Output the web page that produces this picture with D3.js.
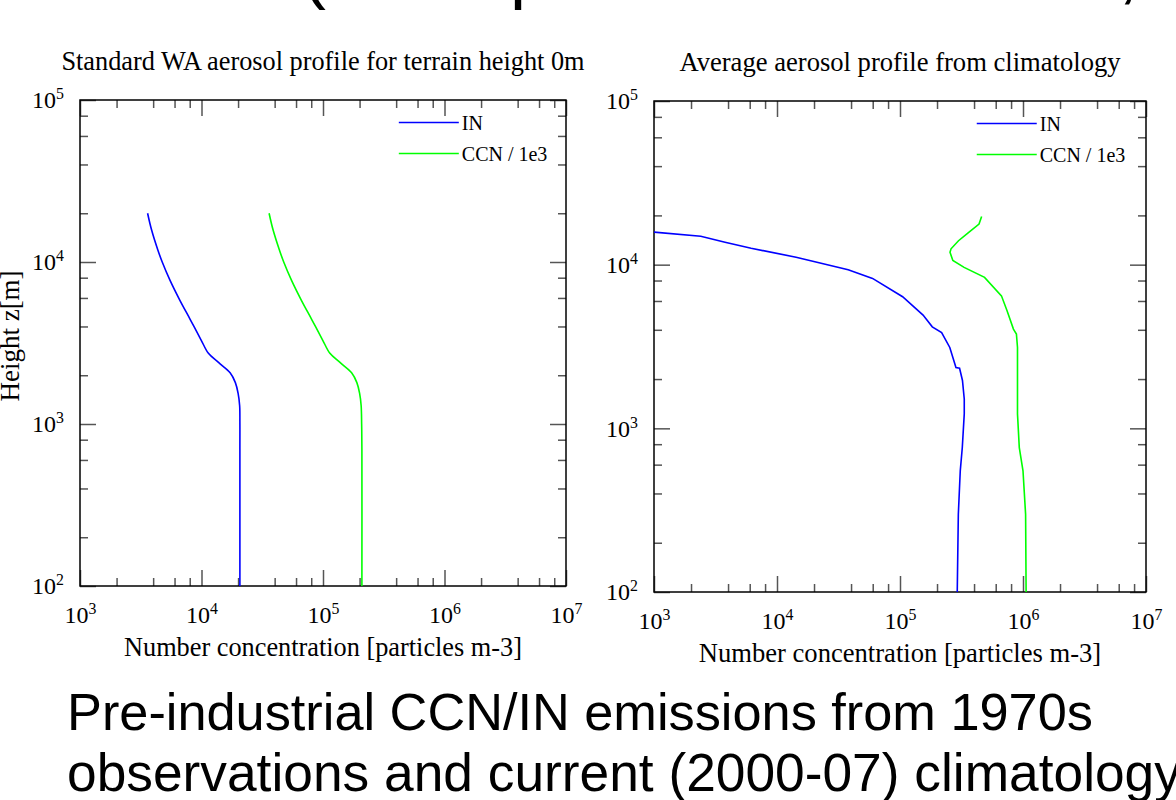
<!DOCTYPE html>
<html>
<head>
<meta charset="utf-8">
<script src="https://cdn.jsdelivr.net/npm/d3@7"></script>
<style>
  body { margin: 0; background: #fff; }
  svg { display: block; }
</style>
</head>
<body>
<svg id="chart" width="1176" height="800"></svg>
<script>
// left panel: standard WA aerosol profile, terrain height 0m
const waHeight = [20000, 15800, 11900, 10000, 7700, 5800, 4400, 3300, 2730, 2400, 2070, 1800, 1550, 1300, 1000, 700, 100];
const waIN     = [3600, 3880, 4365, 4750, 5510, 6640, 8100, 9930, 11400, 13800, 17200, 19000, 20000, 20600, 20700, 20700, 20700];
const waCCN    = [36000, 38800, 43700, 47500, 55100, 66400, 81000, 99300, 114000, 138000, 172000, 190000, 200000, 206000, 208000, 209000, 209000];

// right panel: average profile from climatology
const climHeightIN = [15800, 14900, 13700, 12600, 11100, 9310, 8240, 6370, 4920, 4170, 3850, 3120, 2350, 2330, 1960, 1510, 1225, 763, 550, 298, 100];
const climIN       = [1000, 2400, 3780, 6160, 14300, 37900, 59800, 105000, 154000, 183000, 218000, 254000, 285000, 305000, 322000, 333000, 333000, 321000, 309000, 298000, 292000];
const climHeightCCN = [19700, 17700, 15600, 14000, 12500, 11900, 10600, 9630, 8360, 6450, 5230, 4040, 3770, 3120, 1510, 1225, 763, 550, 298, 100];
const climCCN       = [461000, 439000, 356000, 299000, 260000, 255000, 269000, 332000, 487000, 668000, 742000, 836000, 884000, 902000, 902000, 902000, 933000, 1000000, 1050000, 1060000];

const xMajor = [1e3, 1e4, 1e5, 1e6, 1e7];
const yMajor = [1e2, 1e3, 1e4, 1e5];
const minorMult = [2, 4, 6, 8];
const seriesNames = ['IN', 'CCN / 1e3'];
const seriesColors = ['#0000ff', '#00ff00'];
const caption = ['Pre-industrial CCN/IN emissions from 1970s',
                 'observations and current (2000-07) climatology'];

const serif = '"Liberation Serif", "Times New Roman", serif';
const sans = '"Liberation Sans", Arial, sans-serif';
const tickColor = '#555';

const svg = d3.select('#chart');
svg.append('rect').attr('width', 1176).attr('height', 800).attr('fill', '#fff');

function minorOf(majors) {
  const out = [];
  majors.slice(0, -1).forEach(m => minorMult.forEach(k => out.push(m * k)));
  return out;
}

function supLabels(axisG, fontSize) {
  axisG.selectAll('text')
    .attr('font-family', serif)
    .attr('font-size', fontSize)
    .attr('fill', '#000')
    .text('10')
    .append('tspan')
      .attr('dy', '-0.55em')
      .attr('font-size', fontSize * 0.66)
      .text(d => Math.round(Math.log10(d)));
}

function tickLines(axisG) {
  axisG.select('.domain').remove();
  axisG.selectAll('line').attr('stroke', tickColor).attr('stroke-width', 1.5);
}

const panels = [
  { id: 'wa', left: 80, top: 100, width: 486, height: 486, font: 26.3,
    curve: d3.curveCatmullRom,
    title: 'Standard WA aerosol profile for terrain height 0m',
    series: [[waHeight, waIN], [waHeight, waCCN]] },
  { id: 'clim', left: 654, top: 101, width: 492, height: 491, font: 26.6,
    curve: d3.curveLinear,
    title: 'Average aerosol profile from climatology',
    series: [[climHeightIN, climIN], [climHeightCCN, climCCN]] }
];

panels.forEach(p => {
  const g = svg.append('g').attr('transform', `translate(${p.left},${p.top})`);
  const x = d3.scaleLog().domain([1e3, 1e7]).range([0, p.width]);
  const y = d3.scaleLog().domain([1e2, 1e5]).range([p.height, 0]);

  // minor ticks on all four sides
  [[d3.axisBottom(x), xMajor, `translate(0,${p.height})`],
   [d3.axisTop(x), xMajor, 'translate(0,0)'],
   [d3.axisLeft(y), yMajor, 'translate(0,0)'],
   [d3.axisRight(y), yMajor, `translate(${p.width},0)`]].forEach(([ax, maj, tr]) => {
    g.append('g').attr('transform', tr)
      .call(ax.tickValues(minorOf(maj)).tickSizeInner(-8).tickSizeOuter(0).tickFormat(''))
      .call(tickLines);
  });
  // major ticks, top and right without labels
  g.append('g')
    .call(d3.axisTop(x).tickValues(xMajor).tickSizeInner(-16).tickSizeOuter(0).tickFormat(''))
    .call(tickLines);
  g.append('g').attr('transform', `translate(${p.width},0)`)
    .call(d3.axisRight(y).tickValues(yMajor).tickSizeInner(-16).tickSizeOuter(0).tickFormat(''))
    .call(tickLines);
  // labelled axes
  const xAxisG = g.append('g').attr('transform', `translate(0,${p.height})`)
    .call(d3.axisBottom(x).tickValues(xMajor).tickSizeInner(-16).tickSizeOuter(0).tickPadding(20));
  tickLines(xAxisG);
  supLabels(xAxisG, 24);
  const yAxisG = g.append('g')
    .call(d3.axisLeft(y).tickValues(yMajor).tickSizeInner(-16).tickSizeOuter(0).tickPadding(16));
  tickLines(yAxisG);
  supLabels(yAxisG, 24);

  // frame
  g.append('rect')
    .attr('width', p.width).attr('height', p.height)
    .attr('fill', 'none').attr('stroke', '#000').attr('stroke-width', 1.5);

  // curves
  g.append('clipPath').attr('id', 'clip-' + p.id)
    .append('rect').attr('width', p.width).attr('height', p.height);
  const line = d3.line().curve(p.curve).x(d => x(d[1])).y(d => y(d[0]));
  p.series.forEach(([hs, vs], i) => {
    g.append('path')
      .datum(hs.map((h, j) => [h, vs[j]]))
      .attr('clip-path', `url(#clip-${p.id})`)
      .attr('fill', 'none')
      .attr('stroke', seriesColors[i])
      .attr('stroke-width', 1.6)
      .attr('d', line);
  });

  // legend
  const lx = p.width * 0.656;
  seriesNames.forEach((name, i) => {
    const ly = 22.5 + i * 31;
    g.append('line')
      .attr('x1', lx).attr('x2', lx + 60).attr('y1', ly).attr('y2', ly)
      .attr('stroke', seriesColors[i]).attr('stroke-width', 1.6);
    g.append('text')
      .attr('x', lx + 63).attr('y', ly + 7)
      .attr('font-family', serif).attr('font-size', 20)
      .text(name);
  });

  // titles
  g.append('text')
    .attr('x', p.width / 2).attr('y', -30)
    .attr('text-anchor', 'middle')
    .attr('font-family', serif).attr('font-size', p.font)
    .text(p.title);
  g.append('text')
    .attr('x', p.width / 2).attr('y', p.height + 70)
    .attr('text-anchor', 'middle')
    .attr('font-family', serif).attr('font-size', p.font)
    .text('Number concentration [particles m-3]');
});

// y label of the left panel (partly clipped at the page edge)
svg.append('text')
  .attr('transform', 'translate(19,336) rotate(-90)')
  .attr('text-anchor', 'middle')
  .attr('font-family', serif).attr('font-size', 27)
  .text('Height z[m]');

// slide title, mostly above the visible area
svg.append('text')
  .attr('x', 302).attr('y', -5)
  .attr('font-family', sans).attr('font-size', 72)
  .text('(Thompson & Eidhammer, 2014)');

// slide caption
svg.selectAll('text.caption').data(caption).enter()
  .append('text')
    .attr('class', 'caption')
    .attr('x', 67)
    .attr('y', (d, i) => 730 + i * 61)
    .attr('font-family', sans)
    .attr('font-size', (d, i) => i === 0 ? 52.3 : 53.3)
    .text(d => d);
</script>
</body>
</html>
